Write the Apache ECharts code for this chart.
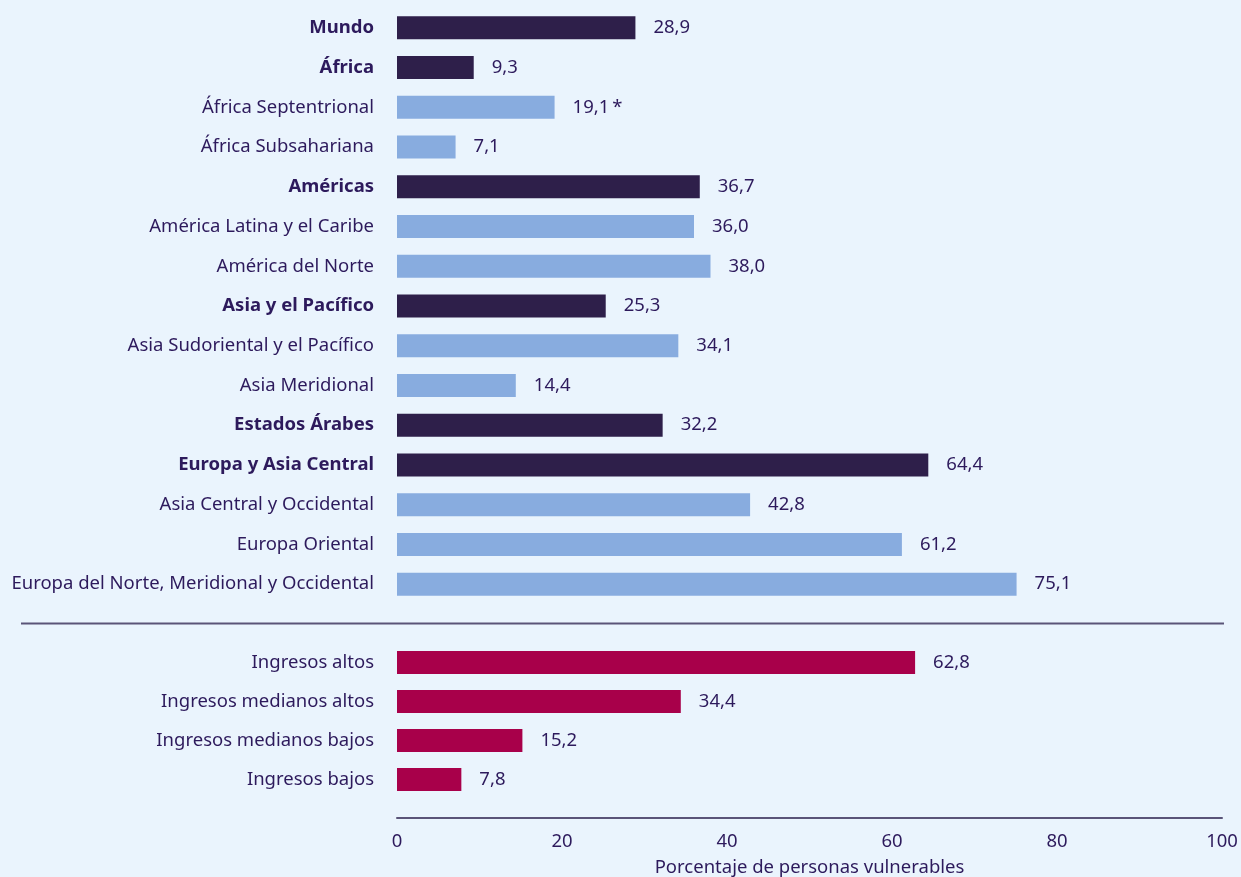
<!DOCTYPE html>
<html>
<head>
<meta charset="utf-8">
<script src="https://cdn.jsdelivr.net/npm/echarts@6/dist/echarts.min.js"></script>
<style>
  html, body { margin: 0; padding: 0; background: #eaf4fd; }
  #chart { width: 1241px; height: 877px; }
</style>
</head>
<body>
<div id="chart"></div>
<script>
// regiones
const regions = [
  'Mundo', 'África', 'África Septentrional', 'África Subsahariana',
  'Américas', 'América Latina y el Caribe', 'América del Norte',
  'Asia y el Pacífico', 'Asia Sudoriental y el Pacífico', 'Asia Meridional',
  'Estados Árabes', 'Europa y Asia Central', 'Asia Central y Occidental',
  'Europa Oriental', 'Europa del Norte, Meridional y Occidental'
]
const regionValues = [
  28.9, 9.3, 19.1, 7.1,
  36.7, 36.0, 38.0,
  25.3, 34.1, 14.4,
  32.2, 64.4, 42.8,
  61.2, 75.1
]
// regiones principales (en negrita, barra oscura)
const mainRegions = ['Mundo', 'África', 'Américas', 'Asia y el Pacífico', 'Estados Árabes', 'Europa y Asia Central']
// grupos de ingresos
const incomeGroups = ['Ingresos altos', 'Ingresos medianos altos', 'Ingresos medianos bajos', 'Ingresos bajos']
const incomeValues = [62.8, 34.4, 15.2, 7.8]

const notes = { 'África Septentrional': '\u2009*' }
const xTicks = [0, 20, 40, 60, 80, 100]

const textColor = '#2d1a5c'
const fs = 18.5
const cDark = '#2e1f4a', cLight = '#88acdf', cIncome = '#a8004a'

function fmt(p) {
  return p.value.toFixed(1).replace('.', ',') + (notes[p.name] || '')
}
let valueLabel = { show: true, position: 'right', distance: 18, color: textColor, fontSize: fs, formatter: fmt }

function catAxis(idx, cats, boldList) {
  return {
    type: 'category',
    gridIndex: idx,
    inverse: true,
    data: cats,
    axisLine: { show: false },
    axisTick: { show: false },
    axisLabel: {
      margin: 23,
      fontSize: fs,
      color: textColor,
      formatter: v => boldList.indexOf(v) >= 0 ? '{b|' + v + '}' : v,
      rich: { b: { fontWeight: 'bold', fontSize: fs, color: textColor } }
    }
  }
}

let chart = echarts.init(document.getElementById('chart'))
let option = {
  backgroundColor: '#eaf4fd',
  textStyle: { fontFamily: 'Noto Sans' },
  animation: false,
  grid: [
    { left: 397, right: 19, top: 8, height: 596, outerBoundsMode: 'none', containLabel: false },
    { left: 397, right: 19, top: 643, height: 156, outerBoundsMode: 'none', containLabel: false }
  ],
  xAxis: [{
    type: 'value', gridIndex: 0,
    min: xTicks[0], max: xTicks[xTicks.length - 1], interval: 20,
    axisLine: { show: false }, axisTick: { show: false },
    axisLabel: { show: false }, splitLine: { show: false }
  }, {
    type: 'value', gridIndex: 1,
    min: xTicks[0], max: xTicks[xTicks.length - 1], interval: 20,
    offset: 19,
    axisLine: { show: true, lineStyle: { color: '#5a5478', width: 2 } },
    axisTick: { show: false },
    splitLine: { show: false },
    axisLabel: { color: textColor, fontSize: fs, margin: 14 },
    name: 'Porcentaje de personas vulnerables',
    nameLocation: 'middle',
    nameGap: 40,
    nameTextStyle: { color: textColor, fontSize: fs }
  }],
  yAxis: [
    catAxis(0, regions, mainRegions),
    catAxis(1, incomeGroups, [])
  ],
  series: [{
    type: 'bar',
    xAxisIndex: 0, yAxisIndex: 0,
    barWidth: 23,
    data: regionValues.map((v, i) => ({
      value: v,
      itemStyle: { color: mainRegions.indexOf(regions[i]) >= 0 ? cDark : cLight }
    })),
    label: valueLabel
  }, {
    type: 'bar',
    xAxisIndex: 1, yAxisIndex: 1,
    barWidth: 23,
    data: incomeValues,
    itemStyle: { color: cIncome },
    label: valueLabel
  }],
  graphic: [{
    type: 'line',
    shape: { x1: 21, y1: 623.5, x2: 1224, y2: 623.5 },
    style: { stroke: '#5a5478', lineWidth: 2 }
  }]
}
chart.setOption(option)
</script>
</body>
</html>
